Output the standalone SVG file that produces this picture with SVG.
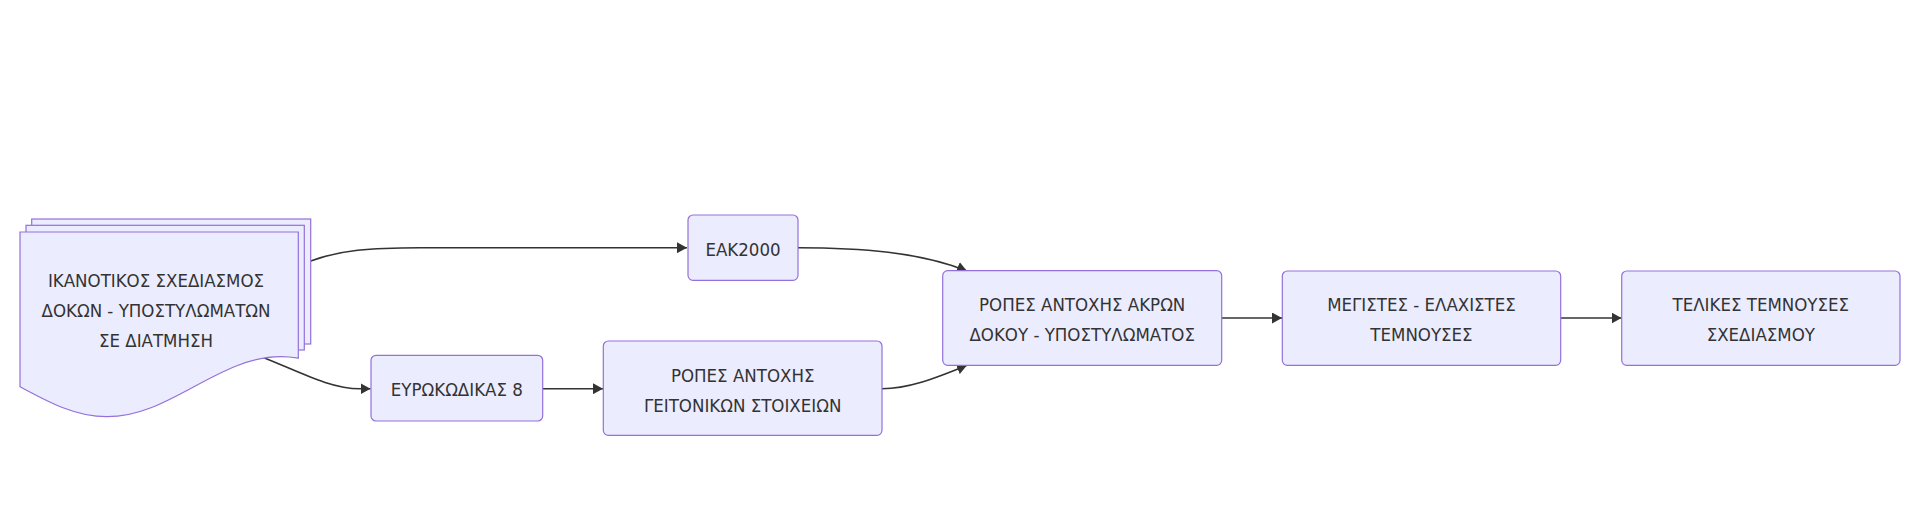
<svg xmlns="http://www.w3.org/2000/svg" width="1920" height="522" viewBox="0 0 1920 522">
<style>
.node{fill:#ECECFF;stroke:#9370DB;stroke-width:1.2px;}
.lbl{font-family:"DejaVu Sans Condensed","DejaVu Sans",sans-serif;font-stretch:condensed;font-size:18.5px;fill:#333333;text-anchor:middle;}
.edge{fill:none;stroke:#333333;stroke-width:1.6px;}
</style>
<defs>
<marker id="arrow" viewBox="0 0 10 11" refX="10" refY="5.5" markerWidth="10" markerHeight="11" markerUnits="userSpaceOnUse" orient="auto">
<path d="M0,0 L10,5.5 L0,11 z" fill="#333333"/>
</marker>
</defs>
<rect x="0" y="0" width="1920" height="522" fill="#ffffff"/>
<g id="connectors">
<path class="edge" marker-end="url(#arrow)" d="M310.7,261 C340,250 370,247.7 420,247.7 L687,247.7"/>
<path class="edge" marker-end="url(#arrow)" d="M262,357 C300,372 330,388.7 360,388.7 L370.5,388.7"/>
<path class="edge" marker-end="url(#arrow)" d="M542.7,388.7 L603,388.7"/>
<path class="edge" marker-end="url(#arrow)" d="M798,247.7 C860,247.7 920,252 967,271"/>
<path class="edge" marker-end="url(#arrow)" d="M882,388.7 C910,388.7 935,378 967,365.3"/>
<path class="edge" marker-end="url(#arrow)" d="M1221.7,318 L1282,318"/>
<path class="edge" marker-end="url(#arrow)" d="M1560.7,318 L1621.5,318"/>
</g>
<g id="node-docs">
<rect class="node" x="31.7" y="219" width="279" height="125"/>
<rect class="node" x="26" y="225.3" width="278.3" height="124.7"/>
<path class="node" d="M20,232 L20,386.7 C48.37,402.07 75.5,416.7 106.97,416.7 C138.45,416.7 165.58,402.07 193.94,386.7 C222.32,371.33 249.45,356.7 280.92,356.7 Q289.3,356.7 298.3,358.2 L298.3,232 Z"/>
<text class="lbl" x="156" y="287.3">ΙΚΑΝΟΤΙΚΟΣ ΣΧΕΔΙΑΣΜΟΣ</text>
<text class="lbl" x="156" y="317.3">ΔΟΚΩΝ - ΥΠΟΣΤΥΛΩΜΑΤΩΝ</text>
<text class="lbl" x="156" y="346.7">ΣΕ ΔΙΑΤΜΗΣΗ</text>
</g>
<g id="node-eak">
<rect class="node" x="688" y="215" width="110" height="65.3" rx="5" ry="5"/>
<text class="lbl" x="743" y="255.7">ΕΑΚ2000</text>
</g>
<g id="node-euro">
<rect class="node" x="371" y="355.3" width="171.7" height="65.7" rx="5" ry="5"/>
<text class="lbl" x="456.8" y="396">ΕΥΡΩΚΩΔΙΚΑΣ 8</text>
</g>
<g id="node-geit">
<rect class="node" x="603.3" y="341" width="278.7" height="94.3" rx="5" ry="5"/>
<text class="lbl" x="742.7" y="381.7">ΡΟΠΕΣ ΑΝΤΟΧΗΣ</text>
<text class="lbl" x="742.7" y="411.7">ΓΕΙΤΟΝΙΚΩΝ ΣΤΟΙΧΕΙΩΝ</text>
</g>
<g id="node-akr">
<rect class="node" x="942.7" y="270.7" width="279" height="94.6" rx="5" ry="5"/>
<text class="lbl" x="1082.2" y="311">ΡΟΠΕΣ ΑΝΤΟΧΗΣ ΑΚΡΩΝ</text>
<text class="lbl" x="1082.2" y="341">ΔΟΚΟΥ - ΥΠΟΣΤΥΛΩΜΑΤΟΣ</text>
</g>
<g id="node-meg">
<rect class="node" x="1282.3" y="271" width="278.4" height="94.3" rx="5" ry="5"/>
<text class="lbl" x="1421.5" y="310.7">ΜΕΓΙΣΤΕΣ - ΕΛΑΧΙΣΤΕΣ</text>
<text class="lbl" x="1421.5" y="340.7">ΤΕΜΝΟΥΣΕΣ</text>
</g>
<g id="node-tel">
<rect class="node" x="1621.7" y="271" width="278.3" height="94.3" rx="5" ry="5"/>
<text class="lbl" x="1760.8" y="310.7">ΤΕΛΙΚΕΣ ΤΕΜΝΟΥΣΕΣ</text>
<text class="lbl" x="1760.8" y="340.7">ΣΧΕΔΙΑΣΜΟΥ</text>
</g>
</svg>
